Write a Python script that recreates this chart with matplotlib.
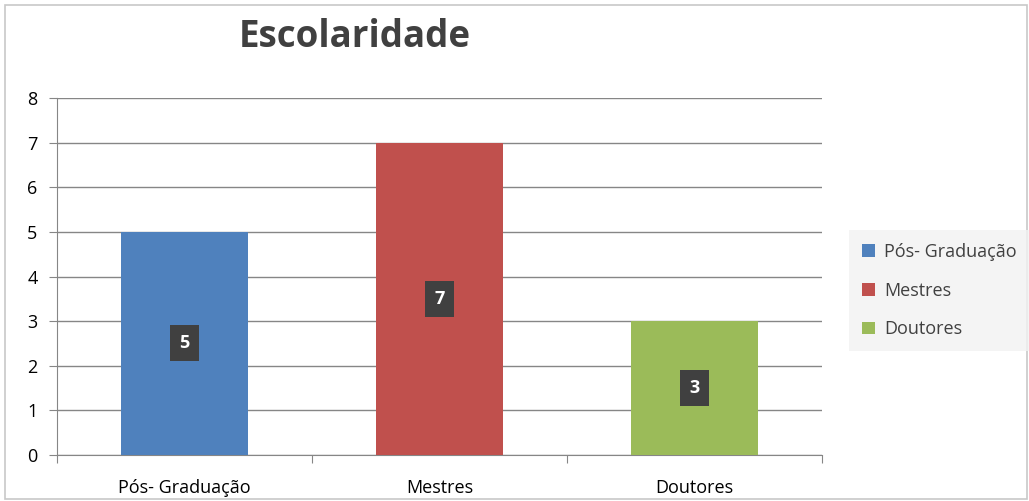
import numpy as np
import matplotlib.pyplot as plt
from matplotlib.patches import Rectangle

# dados
categorias = ['Pós- Graduação', 'Mestres', 'Doutores']
valores = [5, 7, 3]
cores = ['#4F81BD', '#C0504D', '#9BBB59']
titulo = 'Escolaridade'

plt.rcParams['font.family'] = ['Open Sans', 'DejaVu Sans']

fig = plt.figure(figsize=(10.29, 5.01), dpi=100)
fig.patch.set_facecolor('white')
# moldura cinza em volta da figura
fig.add_artist(Rectangle((0.005, 0.003), 0.993, 0.987, transform=fig.transFigure,
                         fill=False, edgecolor='#c8c8c8', linewidth=1.2))

ax = fig.add_axes([0.0554, 0.0918, 0.7436, 0.7126])
x = np.arange(len(categorias))
barras = ax.bar(x, valores, width=0.5, color=cores, label=categorias, zorder=3)

# rotulos de dados em caixas escuras, no meio de cada barra
for xi, v in zip(x, valores):
    ax.text(xi, v / 2.0, str(v), ha='center', va='center', color='white',
            fontsize=13, fontweight='bold', zorder=5,
            bbox=dict(boxstyle='square,pad=0.5', facecolor='#404040', edgecolor='none'))

ax.set_xlim(-0.5, 2.5)
ax.set_ylim(0, 8)
ax.set_yticks(range(0, 9))
ax.yaxis.grid(True, color='#868686', linewidth=1, zorder=0)
ax.set_xticks([-0.5, 0.5, 1.5, 2.5])
ax.set_xticklabels([])
ax.set_xticks(x, minor=True)
ax.set_xticklabels(categorias, minor=True, fontsize=13)
ax.tick_params(axis='x', which='minor', length=0, pad=17)
ax.tick_params(axis='x', which='major', direction='out', length=6, color='#868686')
ax.tick_params(axis='y', direction='out', length=6, color='#868686', labelsize=13, pad=8)
for s in ['top', 'right']:
    ax.spines[s].set_visible(False)
for s in ['left', 'bottom']:
    ax.spines[s].set_color('#868686')

fig.text(0.345, 0.927, titulo, ha='center', va='center', fontsize=26.5,
         fontweight='bold', color='#404040')

leg = fig.legend(handles=barras, labels=categorias, loc='center left',
                 bbox_to_anchor=(0.822, 0.42), frameon=True, fancybox=False,
                 fontsize=13, handlelength=0.7, handleheight=0.7, labelspacing=1.15,
                 borderpad=0.7, borderaxespad=0.2, handletextpad=0.5)
leg.get_frame().set_facecolor('#f2f2f2')
leg.get_frame().set_edgecolor('none')
for t in leg.get_texts():
    t.set_color('#404040')

fig.savefig('out.png', dpi=100)
